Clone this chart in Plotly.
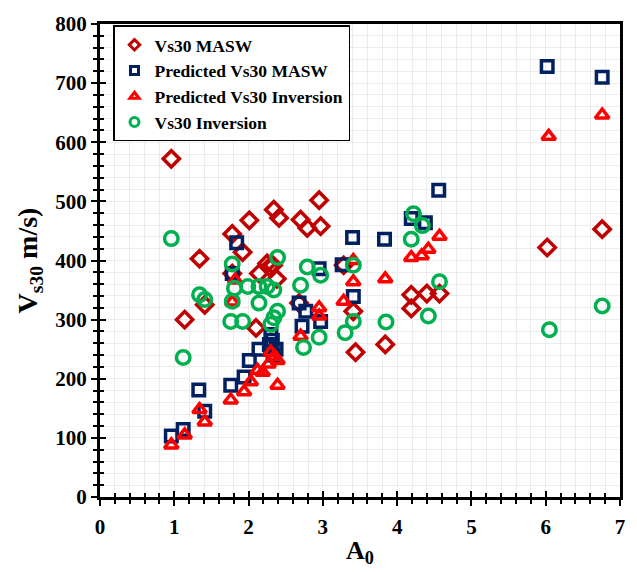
import plotly.graph_objects as go

# ---- data ----
masw_x = [0.96, 1.14, 1.34, 1.41, 1.78, 1.92, 2.01, 1.78, 2.10, 2.14, 2.28, 2.38, 2.34, 2.41, 2.70,
          2.79, 2.95, 2.97, 2.68, 3.28, 3.41, 3.44, 3.84, 4.19, 4.19, 4.40, 4.57, 6.02, 6.76, 2.25, 2.33]
masw_y = [572, 300, 403, 325, 445, 414, 468, 378, 286, 378, 389, 369, 486, 472, 469,
          455, 502, 458, 328, 392, 314, 245, 258, 342, 319, 344, 344, 422, 453, 395, 392]

pred_masw_x = [0.96, 1.12, 1.33, 1.41, 1.76, 1.94, 2.01, 2.14, 2.28, 2.30, 2.37, 2.33, 1.78, 1.84, 2.68,
               2.77, 2.72, 2.97, 2.95, 3.26, 3.40, 3.41, 3.83, 4.19, 4.38, 4.56, 6.02, 6.76, 2.32]
pred_masw_y = [103, 114, 181, 145, 189, 203, 231, 250, 258, 275, 250, 240, 378, 430, 328,
               314, 289, 297, 386, 393, 439, 339, 436, 471, 464, 519, 728, 710, 265]

pred_inv_x = [0.96, 1.14, 1.34, 1.41, 1.76, 1.94, 2.03, 2.12, 2.19, 2.30, 2.39, 2.39, 2.27, 2.35, 1.82,
              2.70, 2.95, 2.95, 3.28, 3.41, 3.41, 3.84, 4.19, 4.33, 4.42, 4.57, 6.04, 6.76, 1.78]
pred_inv_y = [88, 105, 148, 127, 164, 178, 195, 214, 211, 245, 231, 189, 225, 238, 367,
              272, 320, 306, 331, 364, 400, 369, 405, 408, 419, 441, 610, 646, 330]

inv_x = [0.96, 1.12, 1.34, 1.41, 1.78, 1.81, 1.78, 1.76, 1.92, 1.99, 2.14, 2.14, 2.25, 2.34, 2.39, 2.39, 2.34,
         2.30, 2.70, 2.79, 2.97, 2.95, 2.74, 3.30, 3.41, 3.41, 3.85, 4.22, 4.34, 4.19, 4.57, 4.42, 6.05, 6.76]
inv_y = [437, 236, 342, 334, 394, 353, 331, 297, 297, 356, 356, 328, 356, 350, 405, 314, 303,
         292, 358, 389, 375, 270, 253, 278, 297, 392, 296, 479, 459, 436, 364, 306, 283, 323]

names = ["Vs30 MASW", "Predicted Vs30 MASW", "Predicted Vs30 Inversion", "Vs30 Inversion"]
colors = ["#C00000", "#002060", "#FF0000", "#00B050"]
symbols = ["diamond-open", "square-open", "triangle-up-open", "circle-open"]
sizes = [12.5, 11.5, 12, 13.5]
legend_sizes = [8, 8, 8, 9]

FONT = "Liberation Serif, Times New Roman, serif"

fig = go.Figure()
series = [(masw_x, masw_y), (pred_masw_x, pred_masw_y), (pred_inv_x, pred_inv_y), (inv_x, inv_y)]
for i, (xs, ys) in enumerate(series):
    fig.add_trace(go.Scatter(
        x=xs, y=ys, mode="markers", name=names[i], showlegend=False,
        marker=dict(symbol=symbols[i], size=sizes[i], color=colors[i],
                    line=dict(width=3.5, color=colors[i]))))
# legend entries with smaller symbols
for i in range(4):
    fig.add_trace(go.Scatter(
        x=[None], y=[None], mode="markers", name=names[i],
        marker=dict(symbol=symbols[i], size=legend_sizes[i], color=colors[i],
                    line=dict(width=3, color=colors[i]))))
# invisible trace to carry the overlay axes (inside ticks -> crossing ticks)
fig.add_trace(go.Scatter(x=[None], y=[None], xaxis="x2", yaxis="y2",
                         showlegend=False, hoverinfo="skip"))

grid_c = "#ececec"
tickfont = dict(family=FONT, size=21, color="black", weight="bold")
fig.update_layout(
    width=637, height=572,
    margin=dict(l=100, r=13, t=16, b=75),
    paper_bgcolor="white", plot_bgcolor="white",
    font=dict(family=FONT, color="black"),
    legend=dict(x=0.025, y=0.997, xanchor="left", yanchor="top",
                bgcolor="white", bordercolor="black", borderwidth=1.5,
                font=dict(family=FONT, size=17.5, color="black", weight="bold"),
                itemsizing="trace"),
    xaxis=dict(range=[0, 7], dtick=1, tick0=0,
               showline=True, linecolor="black", linewidth=3, mirror=True,
               ticks="outside", ticklen=6, tickwidth=2, tickcolor="black",
               showgrid=True, gridcolor=grid_c, gridwidth=1, zeroline=False,
               minor=dict(dtick=0.2, ticks="outside", ticklen=4, tickwidth=2, tickcolor="black",
                          showgrid=True, gridcolor=grid_c, gridwidth=1),
               tickfont=tickfont, ticklabelstandoff=3,
               title=dict(text="A<sub>0</sub>", standoff=3,
                          font=dict(family=FONT, size=26, color="black", weight="bold"))),
    yaxis=dict(range=[0, 800], dtick=100, tick0=0,
               showline=True, linecolor="black", linewidth=3, mirror=True,
               ticks="outside", ticklen=6, tickwidth=2, tickcolor="black",
               showgrid=True, gridcolor=grid_c, gridwidth=1, zeroline=False,
               minor=dict(dtick=20, ticks="outside", ticklen=4, tickwidth=2, tickcolor="black",
                          showgrid=True, gridcolor=grid_c, gridwidth=1),
               tickfont=tickfont,
               title=dict(text="V<sub>s30</sub> m/s)", standoff=10,
                          font=dict(family=FONT, size=28, color="black", weight="bold"))),
    xaxis2=dict(overlaying="x", matches="x", anchor="y2", side="bottom",
                showline=False, showgrid=False, zeroline=False, showticklabels=False,
                ticks="inside", ticklen=6, tickwidth=2, tickcolor="black", dtick=1, tick0=0,
                minor=dict(dtick=0.2, ticks="inside", ticklen=4, tickwidth=2, tickcolor="black",
                           showgrid=False)),
    yaxis2=dict(overlaying="y", matches="y", anchor="x2", side="left",
                showline=False, showgrid=False, zeroline=False, showticklabels=False,
                ticks="inside", ticklen=6, tickwidth=2, tickcolor="black", dtick=100, tick0=0,
                minor=dict(dtick=20, ticks="inside", ticklen=4, tickwidth=2, tickcolor="black",
                           showgrid=False)),
)

fig.write_html("out.html")
